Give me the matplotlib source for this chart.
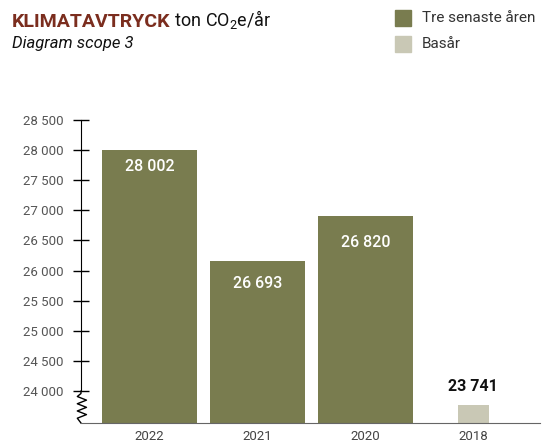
import matplotlib
matplotlib.use("Agg")
from matplotlib import pyplot as plt
import matplotlib.transforms as mtransforms

# data
years = ["2022", "2021", "2020", "2018"]
etiketter = [28002, 26693, 26820, 23741]     # talen som står på staplarna
hojd = [28010, 26160, 26910, 23770]          # stapelhöjd som den är ritad i bilden
serier = ["Tre senaste åren", "Tre senaste åren", "Tre senaste åren", "Basår"]
yticks = [24000, 24500, 25000, 25500, 26000, 26500, 27000, 27500, 28000, 28500]

plt.rcParams['font.family'] = ['Roboto', 'DejaVu Sans']
plt.rcParams['mathtext.fontset'] = 'custom'
plt.rcParams['mathtext.rm'] = 'Roboto'

olive = "#797c4f"
beige = "#c9c8b5"
farger = {"Tre senaste åren": olive, "Basår": beige}

fig = plt.figure(figsize=(5.42, 4.43), dpi=100)
ax = fig.add_axes([0.1494, 0.0451, 0.8466, 0.684])

x = list(range(len(years)))
bredd = [0.88 if s != "Basår" else 0.29 for s in serier]
ax.bar(x, hojd, width=bredd, color=[farger[s] for s in serier])

ymin = 23470
ax.set_ylim(ymin, 28500)
ax.set_xlim(-0.634, 3.616)

# etiketternas avstånd under stapeltoppen (punkter)
avstand = [-12.5, -16, -19]
for xi, h, v, s in zip(x, hojd, etiketter, serier):
    txt = f"{v:,}".replace(",", " ")
    if s == "Basår":
        ax.annotate(txt, (xi, h), xytext=(0, 8), textcoords="offset points",
                    ha="center", va="bottom", fontsize=11.5, fontweight="bold", color="#111111")
    else:
        ax.annotate(txt, (xi, h), xytext=(0, avstand[xi]), textcoords="offset points",
                    ha="center", va="center", fontsize=11.5, fontweight="medium", color="white")

ax.set_yticks(yticks)
ax.set_yticklabels([f"{t:,}".replace(",", " ") for t in yticks])
ax.set_xticks(x)
ax.set_xticklabels(years)
ax.tick_params(axis="y", direction="inout", length=11.5, width=1, color="black",
               labelsize=9.5, labelcolor="#555555", pad=7)
ax.tick_params(axis="x", length=0, labelsize=9.5, labelcolor="#444444", pad=5)

for side in ["top", "right"]:
    ax.spines[side].set_visible(False)
ax.spines["left"].set_bounds(24000, 28500)
ax.spines["left"].set_color("black")
ax.spines["bottom"].set_color("#666666")

# sicksack-brytning på y-axeln
trans = mtransforms.blended_transform_factory(ax.transAxes, ax.transData)
zx = [0, 0, -0.008, 0.012, -0.008, 0.012, -0.008, 0.012, -0.008, 0]
zy = [24000, 23960, 23910, 23850, 23790, 23730, 23670, 23610, 23550, ymin]
ax.plot(zx, zy, color="black", lw=1, transform=trans, clip_on=False)

# rubrik
t1 = fig.text(0.022, 0.938, "KLIMATAVTRYCK", fontsize=14, fontweight="bold",
              color="#7b2d1e", va="baseline")
fig.text(0.022, 0.892, "Diagram scope 3", fontsize=12, fontstyle="italic",
         color="#111111", va="baseline")
ax.annotate(" ton CO$_2$e/år", xy=(1, 0), xycoords=t1, fontsize=13,
            color="#111111", va="bottom", ha="left")

# legend
for i, namn in enumerate(["Tre senaste åren", "Basår"]):
    yy = 443 - 18 - i * 26
    fig.patches.append(plt.Rectangle((395 / 542, (yy - 8) / 443), 16 / 542, 16 / 443,
                                     transform=fig.transFigure, color=farger[namn]))
    fig.text(422 / 542, yy / 443, namn, fontsize=11, color="#333333", va="center")

fig.savefig("out.png", dpi=100)
